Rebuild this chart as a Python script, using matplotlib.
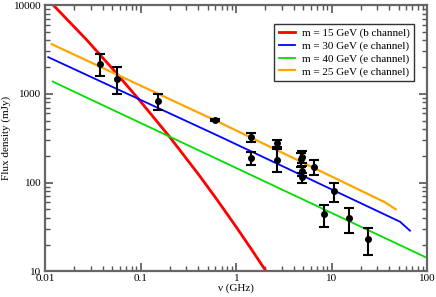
import numpy as np
import matplotlib
matplotlib.use('Agg')
import matplotlib.pyplot as plt
from matplotlib.ticker import LogLocator, FuncFormatter, NullFormatter

plt.rcParams['font.family'] = ['Liberation Serif', 'DejaVu Serif']

# data points (GHz, mJy) with lower / upper error bar ends
nu_obs = [0.0374, 0.0568, 0.150, 0.594, 1.415, 1.43, 2.69, 2.69,
          4.85, 4.8, 4.9, 4.85, 6.56, 8.28, 10.5, 15.2, 24.1]
flux_obs = [2173, 1483, 832, 508, 324, 188, 277, 180,
            195, 183, 135, 115, 149, 44, 80.4, 39.6, 23.1]
flux_lo = [1592, 991, 658, 490, 289, 158, 254, 131,
           165, 150, 118, 100, 122, 31.8, 60, 26.8, 15.3]
flux_hi = [2795, 1995, 1000, 526, 360, 223, 300, 237,
           228, 214, 155, 128, 180, 55.9, 100, 52, 30.5]

# model curves
nu_b15 = [0.0105, 0.0121, 0.0271, 0.05, 0.0964, 0.199, 0.40, 0.63, 1.0, 1.45, 2.05, 2.4]
flux_b15 = [12000, 10000, 4050, 1940, 852, 330, 124.5, 63.8, 31.5, 17.5, 10, 7.8]
nu_e30 = [0.01073, 0.675, 51.8, 65.9]
flux_e30 = [2587, 329, 36.2, 28.7]
nu_e40 = [0.01194, 95]
flux_e40 = [1373, 14.5]
nu_e25 = [0.01167, 0.675, 36, 46.7]
flux_e25 = [3625, 473, 60, 50]

fig = plt.figure(figsize=(4.36, 2.97), dpi=100)
ax = fig.add_axes([0.104, 0.0865, 0.876, 0.8965])

ax.plot(nu_b15, flux_b15, color='#ff0000', lw=2.0, label='m = 15 GeV (b channel)')
ax.plot(nu_e30, flux_e30, color='#0000ff', lw=1.3, label='m = 30 GeV (e channel)')
ax.plot(nu_e40, flux_e40, color='#00dd00', lw=1.3, label='m = 40 GeV (e channel)')
ax.plot(nu_e25, flux_e25, color='#ffa500', lw=1.6, label='m = 25 GeV (e channel)')

err = [np.array(flux_obs) - np.array(flux_lo), np.array(flux_hi) - np.array(flux_obs)]
ax.errorbar(nu_obs, flux_obs, yerr=err, fmt='o', color='black', ms=4,
            elinewidth=1.5, capsize=3.5, capthick=1.5, zorder=5)

ax.set_xscale('log')
ax.set_yscale('log')
ax.set_xlim(0.01, 100)
ax.set_ylim(10, 10000)

fmt = FuncFormatter(lambda v, p: ('%g' % v))
ax.xaxis.set_major_formatter(fmt)
ax.yaxis.set_major_formatter(fmt)
ax.xaxis.set_minor_locator(LogLocator(base=10, subs=np.arange(2, 10)))
ax.yaxis.set_minor_locator(LogLocator(base=10, subs=np.arange(2, 10)))
ax.xaxis.set_minor_formatter(NullFormatter())
ax.yaxis.set_minor_formatter(NullFormatter())

ax.tick_params(which='both', direction='in', top=True, right=True,
               colors='#555555', labelcolor='black', labelsize=8)
ax.tick_params(which='major', length=6, width=1.2)
ax.tick_params(which='minor', length=3.5, width=1.0)
ax.tick_params(axis='x', which='major', pad=2)
ax.tick_params(axis='y', which='major', pad=3)
for s in ax.spines.values():
    s.set_color('#666666')
    s.set_linewidth(1.6)

ax.set_xlabel('ν (GHz)', fontsize=8, labelpad=0)
ax.set_ylabel('Flux density (mJy)', fontsize=8, labelpad=2)

leg = ax.legend(loc='upper right', bbox_to_anchor=(0.981, 0.951), fontsize=8,
                frameon=True, fancybox=False, framealpha=1, edgecolor='#333333',
                handlelength=1.5, handletextpad=0.6, borderpad=0.4, labelspacing=0.25)
leg.get_frame().set_linewidth(1.0)

fig.savefig('out.png', dpi=100)
